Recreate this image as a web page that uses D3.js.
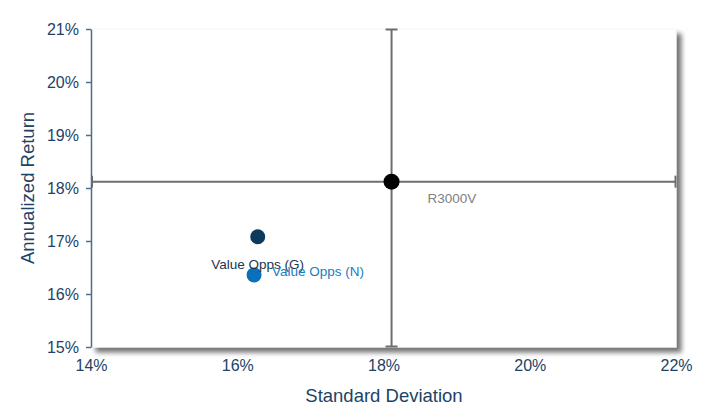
<!DOCTYPE html>
<html><head><meta charset="utf-8">
<script src="https://cdn.jsdelivr.net/npm/d3@7"></script>
<style>body{margin:0;background:#fff;}svg{display:block;font-family:"Liberation Sans",Arial,sans-serif;}</style>
</head><body><svg id="c" width="701" height="417"></svg>
<script>
const names = ["Value Opps (G)", "Value Opps (N)", "R3000V"];
const stdDev = [16.28, 16.23, 18.11];
const annReturn = [17.08, 16.36, 18.12];
const dotColors = ["#0d3a5c", "#0b70b9", "#000000"];
const labelColors = ["#1b3550", "#1a7cc0", "#808080"];
const xTicks = [14, 16, 18, 20, 22];
const yTicks = [15, 16, 17, 18, 19, 20, 21];
const benchIndex = 2;

const svg = d3.select("#c");
const L = 91, R = 676, T = 29, B = 347;
const x = d3.scaleLinear().domain([14, 22]).range([L, R]);
const y = d3.scaleLinear().domain([15, 21]).range([B, T]);

const defs = svg.append("defs");
const f = defs.append("filter").attr("id","sh").attr("x","-5%").attr("y","-5%").attr("width","115%").attr("height","120%");
f.append("feGaussianBlur").attr("in","SourceAlpha").attr("stdDeviation",2.5);
f.append("feOffset").attr("dx",5).attr("dy",5).attr("result","b");
f.append("feComponentTransfer").append("feFuncA").attr("type","linear").attr("slope",0.55);
const m = f.append("feMerge"); m.append("feMergeNode"); m.append("feMergeNode").attr("in","SourceGraphic");

svg.append("rect").attr("x",L).attr("y",T).attr("width",R-L).attr("height",B-T)
  .attr("fill","#fff").attr("stroke","#f6f6f6").attr("stroke-width",1).attr("filter","url(#sh)");

// crosshair through benchmark
const bx = x(stdDev[benchIndex]), by = y(annReturn[benchIndex]);
const lc = "#6e6e6e";
const g = svg.append("g").attr("stroke",lc).attr("stroke-width",2).attr("fill","none");
g.append("line").attr("x1",bx).attr("x2",bx).attr("y1",T).attr("y2",B);
g.append("line").attr("x1",bx-6).attr("x2",bx+6).attr("y1",T+0.5).attr("y2",T+0.5);
g.append("line").attr("x1",bx-6).attr("x2",bx+6).attr("y1",B-0.5).attr("y2",B-0.5);
g.append("line").attr("x1",L).attr("x2",R).attr("y1",by).attr("y2",by);
g.append("line").attr("x1",R-0.5).attr("x2",R-0.5).attr("y1",by-6).attr("y2",by+6);
g.append("line").attr("x1",L+1).attr("x2",L+1).attr("y1",by-6).attr("y2",by+6);

const font = "Liberation Sans, Arial, sans-serif";
const axisColor = "#1d4366";
// y axis
const ya = svg.append("g").attr("transform",`translate(${L},0)`)
  .call(d3.axisLeft(y).tickValues(yTicks).tickFormat(d=>d+"%").tickSizeOuter(0).tickSizeInner(5).tickPadding(7));
ya.select(".domain").attr("stroke","#4d6f8e").attr("stroke-width",1.5);
ya.selectAll(".tick line").attr("stroke","#4d6f8e").attr("stroke-width",1.5);
ya.selectAll("text").attr("fill",axisColor).attr("font-size",16).attr("font-family",font);

// x axis (labels only)
const xa = svg.append("g").attr("transform",`translate(0,${B})`)
  .call(d3.axisBottom(x).tickValues(xTicks).tickFormat(d=>d+"%").tickSize(0).tickPadding(13));
xa.select(".domain").remove();
xa.selectAll("text").attr("fill",axisColor).attr("font-size",16).attr("font-family",font);

svg.append("text").attr("x",384).attr("y",402).attr("text-anchor","middle")
  .attr("fill",axisColor).attr("font-size",18.5).text("Standard Deviation");
svg.append("text").attr("transform","translate(34,188) rotate(-90)").attr("text-anchor","middle")
  .attr("fill",axisColor).attr("font-size",18.5).text("Annualized Return");

// points
const radii = [7.5, 7.5, 8];
names.forEach((n,i)=>{
  svg.append("circle").attr("cx",x(stdDev[i])).attr("cy",y(annReturn[i])).attr("r",radii[i]).attr("fill",dotColors[i]);
});
// labels
const lab = [
  {dx:0, dy:32, anchor:"middle"},
  {dx:18, dy:1, anchor:"start"},
  {dx:36, dy:21, anchor:"start"}
];
names.forEach((n,i)=>{
  svg.append("text").attr("x",x(stdDev[i])+lab[i].dx).attr("y",y(annReturn[i])+lab[i].dy)
    .attr("text-anchor",lab[i].anchor).attr("fill",labelColors[i]).attr("font-size",13.5).text(n);
});
</script></body></html>
